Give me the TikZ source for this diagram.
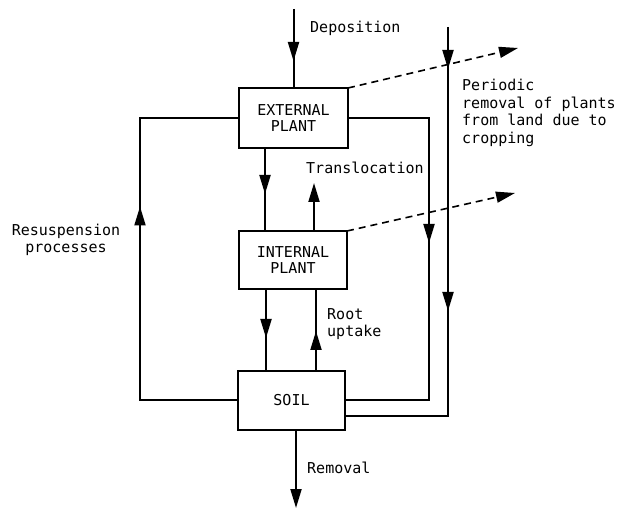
\documentclass[tikz,border=0pt]{standalone}
\usepackage{fontspec}
\setmonofont{DejaVu Sans Mono}
\usetikzlibrary{arrows.meta,decorations.markings}
\begin{document}
\begin{tikzpicture}[x=1pt,y=-1pt,
  >={Triangle[length=19pt,width=11pt]},
  lw/.style={line width=2pt},
  dash line/.style={line width=1.6pt,dash pattern=on 7pt off 5pt},
  box/.style={draw,line width=2pt,rectangle,inner sep=0pt,outer sep=0pt,align=center,
    font=\ttfamily\fontsize{15}{16}\selectfont},
  lbl/.style={inner sep=0pt,font=\ttfamily\fontsize{15}{17.5}\selectfont},
  midarrow/.style={postaction={decorate},decoration={markings,
    mark=at position #1 with {\arrow{>}}}},
  twoarrows/.style 2 args={postaction={decorate},decoration={markings,
    mark=at position #1 with {\arrow{>}},
    mark=at position #2 with {\arrow{>}}}},
]
\useasboundingbox (0,0) rectangle (624,510);

% boxes
\node[box,minimum width=109pt,minimum height=60pt] (ext) at (293.5,118) {EXTERNAL\\PLANT};
\node[box,minimum width=108pt,minimum height=58pt] (int) at (293,260) {INTERNAL\\PLANT};
\node[box,minimum width=107pt,minimum height=59pt] (soil) at (291.5,400.5) {SOIL};

% free ends
\coordinate (deptop) at (293.5,9);
\coordinate (trtip) at (314,183);
\coordinate (remend) at (296,508);
\coordinate (rl) at (140,0);
\coordinate (ri) at (429,0);
\coordinate (ro) at (448,27);
\coordinate (d1) at (518,48);
\coordinate (d2) at (515,193);
\coordinate (lowsoil) at ([yshift=-16pt]soil.east);
\coordinate (xa) at (265,0);
\coordinate (xb) at (266,0);
\coordinate (xc) at (316,0);

% deposition
\draw[lw,midarrow=52pt] (deptop) -- (ext.north);
% external -> internal
\draw[lw,midarrow=46pt] (xa |- ext.south) -- (xa |- int.north);
% translocation
\draw[lw,->] (trtip |- int.north) -- (trtip);
% internal -> soil
\draw[lw,midarrow=49pt] (xb |- int.south) -- (xb |- soil.north);
% root uptake
\draw[lw,midarrow=40pt] (xc |- soil.north) -- (xc |- int.south);
% removal
\draw[lw,->] (remend |- soil.south) -- (remend);
% resuspension
\draw[lw,midarrow=292pt] (soil.west) -- (soil.west -| rl) -- (rl |- ext.west) -- (ext.west);
% external -> soil (right)
\draw[lw,midarrow=206pt] (ext.east) -- (ext.east -| ri) -- (ri |- soil.east) -- (soil.east);
% outer line
\draw[lw,twoarrows={42pt}{284pt}] (ro) -- (ro |- lowsoil) -- (lowsoil);
% dashed removal
\draw[dash line,->] (ext.north east) -- (d1);
\draw[dash line,->] (int.north east) -- (d2);

% labels
\node[lbl,anchor=west] (tdep) at (310,28) {Deposition};
\node[lbl,anchor=west] (ttr) at (306,168) {Translocation};
\node[lbl,align=center] (tres) at (66,240) {Resuspension\\processes};
\node[lbl,align=left,anchor=north west] (tper) at (462,79) {Periodic\\removal of plants\\from land due to\\cropping};
\node[lbl,align=left,anchor=west] (troot) at (327,324) {Root\\uptake};
\node[lbl,anchor=west] (trem) at (307,468) {Removal};
\end{tikzpicture}
\end{document}
